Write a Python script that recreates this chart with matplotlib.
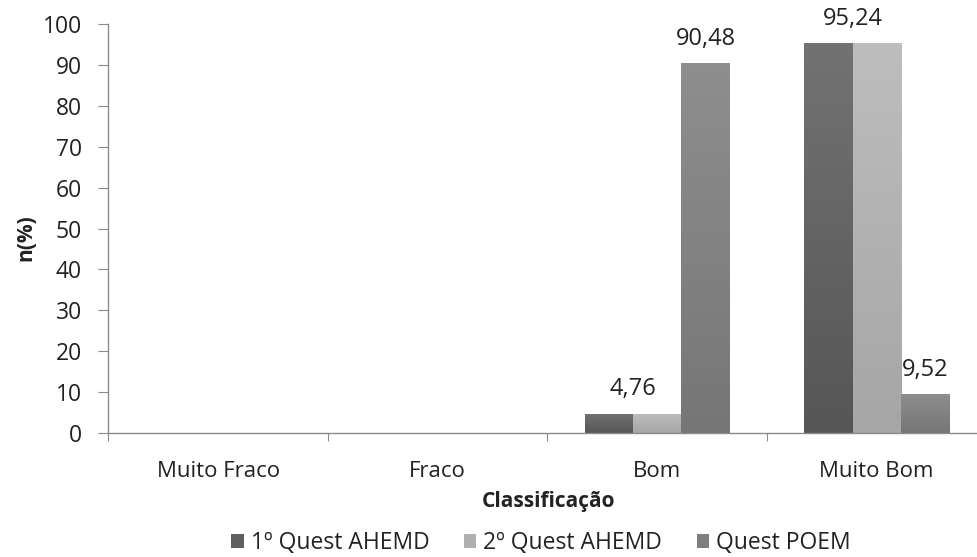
import numpy as np
import matplotlib
matplotlib.use("Agg")
import matplotlib.pyplot as plt
from matplotlib.colors import LinearSegmentedColormap
from matplotlib.patches import Patch

categories = ["Muito Fraco", "Fraco", "Bom", "Muito Bom"]
series_names = ["1º Quest AHEMD", "2º Quest AHEMD", "Quest POEM"]
quest1 = [0, 0, 4.76, 95.24]
quest2 = [0, 0, 4.76, 95.24]
poem = [0, 0, 90.48, 9.52]
yticks = list(range(0, 101, 10))

# (top colour, bottom colour) of each series' vertical gradient
grads = [("#727272", "#565656"), ("#bdbdbd", "#a6a6a6"), ("#8e8e8e", "#767676")]
legend_cols = ["#5e5e5e", "#b0b0b0", "#7e7e7e"]
txt = "#222222"

plt.rcParams["font.family"] = ["Open Sans", "DejaVu Sans"]
fig = plt.figure(figsize=(9.78, 5.57), dpi=100)
L, R = 108.5 / 978, 986.5 / 978
B, T = 1 - 433 / 557, 1 - 24 / 557
ax = fig.add_axes([L, B, R - L, T - B])

x = np.arange(len(categories))
w = 0.22
offsets = [-w, 0, w]
data = [quest1, quest2, poem]

for vals, off, (ctop, cbot) in zip(data, offsets, grads):
    bars = ax.bar(x + off, vals, w, color="none", edgecolor="none", zorder=2)
    cmap = LinearSegmentedColormap.from_list("g", [cbot, ctop])
    for b in bars:
        h = b.get_height()
        if h <= 0:
            continue
        x0 = b.get_x()
        im = ax.imshow(np.linspace(0, 1, 64).reshape(-1, 1), cmap=cmap,
                       extent=[x0, x0 + b.get_width(), 0, h], origin="lower",
                       aspect="auto", zorder=2, interpolation="bilinear")
        im.set_clip_path(b)
ax.set_aspect("auto")
ax.set_xlim(-0.5, len(categories) - 0.5)
ax.set_ylim(0, 100)

# value labels: the pair of identical AHEMD values share one label
def lab(xp, v):
    ax.text(xp, v + 3.0, f"{v:.2f}".replace(".", ","), ha="center", va="bottom",
            fontsize=17, color=txt, clip_on=False)

lab(x[2] - w / 2, quest1[2])
lab(x[2] + w, poem[2])
lab(x[3] - w / 2, quest1[3])
lab(x[3] + w, poem[3])

for s in ["top", "right"]:
    ax.spines[s].set_visible(False)
for s in ["left", "bottom"]:
    ax.spines[s].set_color("#8a8a8a")
    ax.spines[s].set_linewidth(1.0)

ax.set_yticks(yticks)
ax.set_yticklabels([str(t) for t in yticks], fontsize=16.5, color=txt)
ax.tick_params(axis="y", length=7, color="#8a8a8a", pad=12)

ax.set_xticks(np.arange(-0.5, len(categories) + 0.5, 1.0))
ax.set_xticklabels([])
ax.set_xticks(x, minor=True)
ax.set_xticklabels(categories, minor=True, fontsize=16, color=txt)
ax.tick_params(axis="x", which="major", length=6, color="#8a8a8a")
ax.tick_params(axis="x", which="minor", length=0, pad=20)

fig.text(26 / 978, 1 - 238 / 557, "n(%)", rotation=90, ha="center", va="center",
         fontsize=15, fontweight="bold", color=txt)
fig.text(549 / 978, 1 - 502 / 557, "Classificação", ha="center", va="center",
         fontsize=15, fontweight="bold", color=txt)

handles = [Patch(facecolor=c, edgecolor="none") for c in legend_cols]
fig.legend(handles, series_names, loc="center", bbox_to_anchor=(541 / 978, 1 - 543 / 557),
           ncol=3, frameon=False, fontsize=16.5, handlelength=0.55, handleheight=0.55,
           handletextpad=0.3, columnspacing=1.5, labelcolor=txt, borderpad=0)

fig.savefig("out.png", dpi=100)
